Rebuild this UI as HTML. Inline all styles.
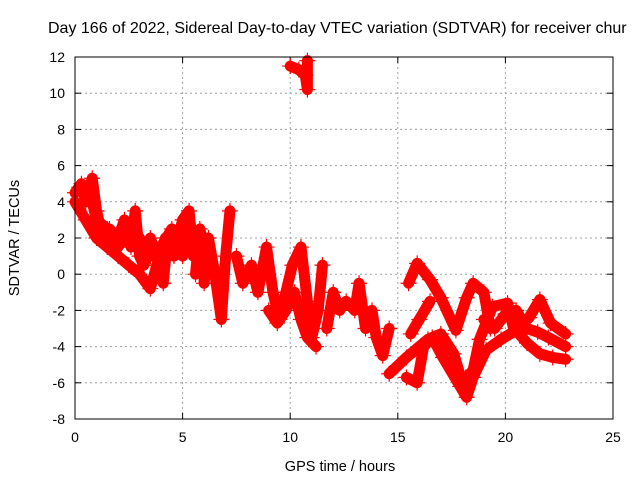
<!DOCTYPE html>
<html><head><meta charset="utf-8"><style>
body{margin:0;background:#fff}
svg{display:block;font-family:"Liberation Sans",sans-serif}
</style></head><body>
<svg id="c" width="640" height="480"></svg>
<script>
const xTicks=[0,5,10,15,20,25];
const yTicks=[-8,-6,-4,-2,0,2,4,6,8,10,12];
const trackA=[[0,4.5],[0.3,5],[0.5,4],[0.8,5.3],[1,3.5],[1.3,2],[1.6,2.5],[2,2],[2.3,3],[2.6,1.5],[2.8,3.5],[3,1],[3.2,0.5],[3.5,2],[3.8,1],[4.1,-0.5],[4.3,2],[4.6,1],[5,3],[5.3,3.5],[5.5,1]];
const trackB=[[0,4],[0.5,3],[1,2],[1.5,1.5],[2,1],[2.5,0.5],[3,0],[3.5,-0.8],[3.8,0.5],[4.2,2],[4.5,1.5],[5,2],[5.3,1.5]];
const trackM=[[0.2,4.8],[0.7,4.5],[1,3],[1.5,2.5],[2,1.5],[2.5,2.5],[3,2],[3.5,1],[4,1.5],[4.5,2.5],[5,1],[5.2,2.5]];
const trackC=[[5.6,0],[5.8,2.5],[6,1.5],[6,-0.5],[6.2,2],[6.5,0],[6.8,-2.5],[7,1],[7.2,3.5]];
const trackD=[[7.5,1],[7.8,-0.5],[8.2,0.5],[8.5,-1],[8.9,1.5],[9.2,-1],[9.5,-2.5],[9.8,-1],[10.1,0.5],[10.5,1.5],[10.8,-1.5],[11,-3.5],[11.3,-2],[11.5,0.5]];
const trackE=[[9,-2],[9.4,-2.7],[9.8,-2],[10.2,-1],[10.5,-2.5],[10.8,-3.5],[11.2,-4]];
const trackF=[[10,11.5],[10.4,11.3],[10.7,11],[10.8,10.2],[10.8,11.8]];
const trackG=[[11.7,-3],[12,-1],[12.3,-2],[12.6,-1.5],[13,-2],[13.2,-0.5],[13.5,-3],[13.8,-2],[14,-3.5],[14.3,-4.5],[14.6,-3]];
const trackH=[[15.5,-0.5],[15.9,0.6],[16.5,-0.3],[17,-1.3],[17.7,-3.1],[18.2,-1.3],[18.5,-0.5],[19,-1],[19.3,-3]];
const trackI=[[14.6,-5.5],[15.4,-4.6],[16.4,-3.6],[17,-3.3],[17.6,-4.4],[18,-6],[18.5,-5.3],[18.8,-3.6],[19.4,-1.8],[20.1,-1.6],[20.4,-3.1],[21.1,-2.4],[21.6,-1.4],[22.1,-2.7],[22.8,-3.3]];
const trackJ=[[15.4,-5.7],[15.9,-6],[16.2,-4],[16.6,-3.5],[17.1,-4.6],[17.9,-6.2],[18.2,-6.8],[18.5,-5.7],[19.1,-4.2],[19.8,-3.6],[20.5,-3.1],[21,-3.8],[21.6,-4.4],[22.2,-4.6],[22.8,-4.7]];
const trackK=[[15.6,-3.3],[16,-2.5],[16.5,-1.5]];
const trackL=[[19,-2.5],[19.5,-3],[20,-2.2],[20.5,-2],[21,-3],[21.5,-3.2],[22,-3.5],[22.8,-4]];
const tracks=[trackA,trackB,trackM,trackC,trackD,trackE,trackF,trackG,trackH,trackI,trackJ,trackK,trackL];
const X0=75,X1=613,Y0=419,Y1=57;
const sx=h=>X0+(h-0)/(25-0)*(X1-X0);
const sy=v=>Y0-(v+8)/(20)*(Y0-Y1);
const svg=document.getElementById('c');const NS='http://www.w3.org/2000/svg';
function mk(t,a,p){const e=document.createElementNS(NS,t);for(const k in a)e.setAttribute(k,a[k]);(p||svg).appendChild(e);return e;}
const grid=mk('g',{});


xTicks.forEach(t=>{if(t>0&&t<25)mk('line',{x1:sx(t),x2:sx(t),y1:Y1,y2:Y0,stroke:'#a0a0a0','stroke-dasharray':'2,3'},grid);
 const l=mk('text',{x:sx(t),y:Y0+23,'text-anchor':'middle','font-size':14,fill:'#000'});l.textContent=t;
 
 
 mk('line',{x1:sx(t),x2:sx(t),y1:Y0,y2:Y0-6,stroke:'#000'});mk('line',{x1:sx(t),x2:sx(t),y1:Y1,y2:Y1+6,stroke:'#000'});});
yTicks.forEach(t=>{if(t>-8&&t<12)mk('line',{x1:X0,x2:X1,y1:sy(t),y2:sy(t),stroke:'#a0a0a0','stroke-dasharray':'2,3'},grid);
 const l=mk('text',{x:X0-10,y:sy(t)+5,'text-anchor':'end','font-size':14,fill:'#000'});l.textContent=t;
 
 
 mk('line',{x1:X0,x2:X0+6,y1:sy(t),y2:sy(t),stroke:'#000'});mk('line',{x1:X1,x2:X1-6,y1:sy(t),y2:sy(t),stroke:'#000'});});
const ser=mk('g',{});


tracks.forEach(tr=>{
 const p=mk('polyline',{points:tr.map(d=>sx(d[0])+','+sy(d[1])).join(' '),fill:'none',stroke:'#f00','stroke-width':11,'stroke-linejoin':'round','stroke-linecap':'round'},ser);
 
 
 tr.forEach(d=>{const x=sx(d[0]),y=sy(d[1]);
  mk('path',{d:`M${x-8},${y}H${x+8}M${x},${y-8}V${y+8}`,stroke:'#f00','stroke-width':1.2},ser);});
});
mk('rect',{x:X0,y:Y1,width:X1-X0,height:Y0-Y1,fill:'none',stroke:'#000'});
const ti=mk('text',{x:48,y:33,'font-size':16,fill:'#000'});ti.textContent='Day 166 of 2022, Sidereal Day-to-day VTEC variation (SDTVAR) for receiver chur';


const xl=mk('text',{x:340,y:471,'text-anchor':'middle','font-size':14.5,fill:'#000'});xl.textContent='GPS time / hours';


const yl=mk('text',{x:0,y:0,'text-anchor':'middle','font-size':14.5,fill:'#000',transform:'translate(19,238) rotate(-90)'});yl.textContent='SDTVAR / TECUs';


</script>
</body></html>
